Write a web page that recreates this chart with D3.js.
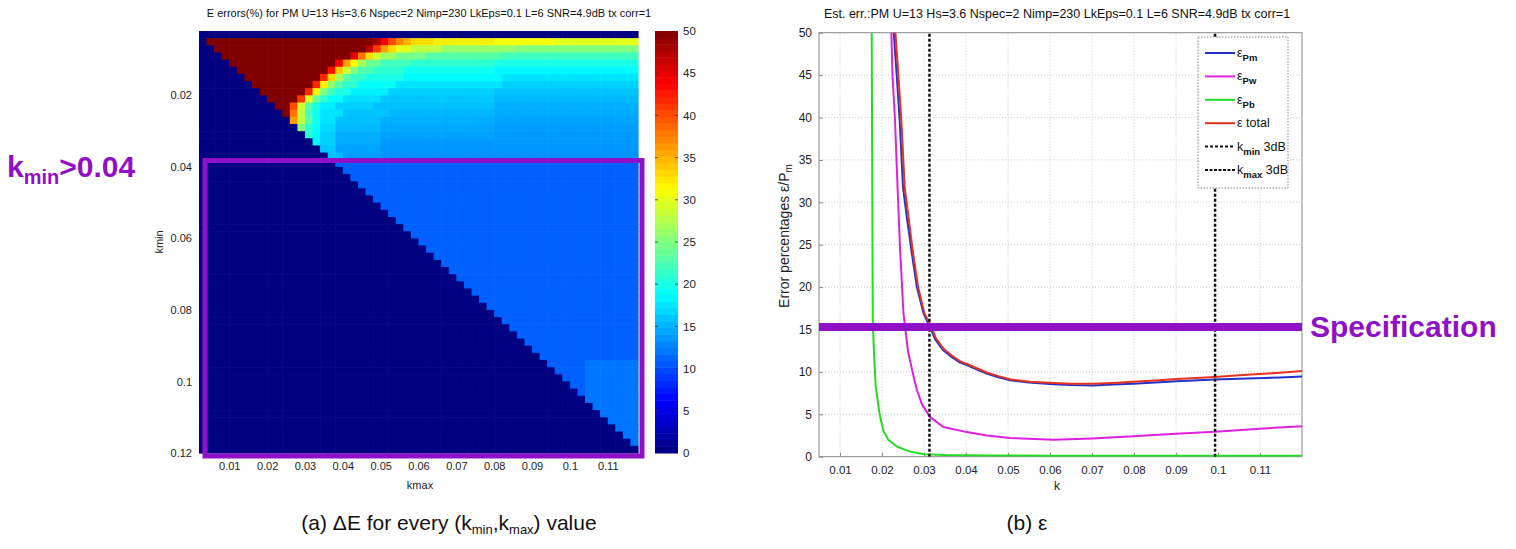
<!DOCTYPE html>
<html><head><meta charset="utf-8">
<script src="https://cdn.jsdelivr.net/npm/d3@7"></script>
<style>
body{margin:0;background:#fff;}
text{font-family:"Liberation Sans",Arial,sans-serif;}
</style>
</head><body>
<svg id="c" width="1516" height="549"></svg>
<script>
// ---------- DATA ----------
// heatmap grid (cell centres)
const kminCats = [0.003,0.005,0.007,0.009,0.011,0.013,0.015,0.017,0.019,0.021,0.023,0.025,0.027,0.029,0.031,0.033,0.035,0.037,0.039,0.041,0.043,0.045,0.047,0.049,0.051,0.053,0.055,0.057,0.059,0.061,0.063,0.065,0.067,0.069,0.071,0.073,0.075,0.077,0.079,0.081,0.083,0.085,0.087,0.089,0.091,0.093,0.095,0.097,0.099,0.101,0.103,0.105,0.107,0.109,0.111,0.113,0.115,0.117,0.119];
const kmaxCats = [0.003,0.005,0.007,0.009,0.011,0.013,0.015,0.017,0.019,0.021,0.023,0.025,0.027,0.029,0.031,0.033,0.035,0.037,0.039,0.041,0.043,0.045,0.047,0.049,0.051,0.053,0.055,0.057,0.059,0.061,0.063,0.065,0.067,0.069,0.071,0.073,0.075,0.077,0.079,0.081,0.083,0.085,0.087,0.089,0.091,0.093,0.095,0.097,0.099,0.101,0.103,0.105,0.107,0.109,0.111,0.113,0.115,0.117];
// read values per kmin row, as runs [kmax up to, error %] (upper rows, kmin 0.005 .. 0.037)
const heatTopRuns = [
  [[0.047,60],[0.049,48],[0.051,44],[0.053,40],[0.055,37],[0.057,35],[0.063,33],[0.079,32],[0.095,31],[1,30]],
  [[0.045,60],[0.047,47],[0.049,41],[0.051,36],[0.053,33],[0.057,30],[0.065,28],[0.085,26],[1,25]],
  [[0.041,60],[0.043,45],[0.045,38],[0.047,33],[0.049,29],[0.053,26.5],[0.061,24.5],[0.081,23],[1,22]],
  [[0.037,60],[0.039,44],[0.041,36],[0.043,31],[0.045,27],[0.049,24],[0.057,22],[0.079,21],[1,20]],
  [[0.035,60],[0.037,43],[0.039,34],[0.041,29],[0.043,25],[0.047,22.5],[0.055,21],[0.079,19.5],[1,18.5]],
  [[0.033,60],[0.035,42],[0.037,33],[0.039,27],[0.041,23.5],[0.045,21.5],[0.055,20],[0.081,18.5],[1,17.5]],
  [[0.031,60],[0.033,42],[0.035,32],[0.037,26],[0.039,23],[0.043,21],[0.053,19],[0.081,17.5],[1,16.5]],
  [[0.029,60],[0.031,42],[0.033,31],[0.035,25],[0.037,22],[0.041,20],[0.051,18],[0.079,16.5],[1,15.8]],
  [[0.027,60],[0.029,41],[0.031,30],[0.033,24],[0.035,21],[0.039,19],[0.049,17.2],[0.079,16],[1,15.3]],
  [[0.025,60],[0.027,40],[0.029,29],[0.031,23],[0.033,20],[0.037,18],[0.047,16.5],[0.079,15.6],[1,14.9]],
  [[0.025,52],[0.027,38],[0.029,28],[0.031,22],[0.033,19.5],[0.039,17.5],[0.051,15.8],[0.079,15.2],[1,14.6]],
  [[0.027,36],[0.029,28],[0.031,23],[0.033,19.5],[0.037,17.5],[0.049,15.6],[0.079,14.8],[1,14.3]],
  [[0.029,25],[0.031,21],[0.033,19],[0.037,17],[0.049,15.3],[0.079,14.5],[1,14]],
  [[0.031,21],[0.033,18.5],[0.037,16.5],[0.049,14.8],[0.079,14.2],[1,13.8]],
  [[0.033,18.5],[0.037,16.5],[0.049,14.6],[1,13.8]],
  [[0.037,16],[0.049,14.3],[1,13.6]],
  [[0.039,15.5],[0.049,14],[1,13.4]]
];
// lower rows (kmin >= 0.039): nearly uniform level, slightly higher patch bottom-right
const heatLowerRuns = [[0.103,11],[1,11]];
const heatLowerPatchRuns = [[0.103,11],[1,12]];
const heatPatchKmin = 0.093;
const cbarTicks = [0,5,10,15,20,25,30,35,40,45,50];
const heatXTicks = [0.01,0.02,0.03,0.04,0.05,0.06,0.07,0.08,0.09,0.1,0.11];
const heatYTicks = [0.02,0.04,0.06,0.08,0.1,0.12];

// right panel curves
const kPb = [0.0174,0.01755,0.0178,0.0181,0.0185,0.0194,0.0203,0.0215,0.0235,0.0267,0.03,0.035,0.045,0.06,0.08,0.1,0.12];
const ePb = [58,50,16.1,12.2,8.25,5.1,3.1,2.0,1.2,0.6,0.3,0.2,0.15,0.12,0.1,0.1,0.1];
const kPw = [0.0219,0.0225,0.0231,0.0237,0.0243,0.0251,0.0262,0.0275,0.0283,0.0295,0.0314,0.0346,0.0402,0.045,0.0505,0.0608,0.07,0.0798,0.09,0.0993,0.11,0.12];
const ePw = [56,45,39.7,31.8,24.5,17,12.4,9.5,7.9,6.2,4.7,3.5,2.9,2.5,2.2,2.0,2.15,2.4,2.7,2.95,3.3,3.6];
const kPm = [0.0222,0.0228,0.0235,0.0242,0.025,0.026,0.0271,0.0283,0.0299,0.0314,0.0326,0.0345,0.0365,0.0386,0.0402,0.0425,0.0449,0.0475,0.0505,0.055,0.0608,0.065,0.0703,0.075,0.0798,0.085,0.0902,0.0993,0.105,0.1148,0.12];
const ePm = [56,50,45,39.7,31.8,27.9,24,20,16.9,15.3,13.9,12.6,11.8,11.1,10.8,10.3,9.8,9.4,9.0,8.75,8.55,8.45,8.4,8.5,8.6,8.75,8.9,9.1,9.2,9.35,9.45];
const kTot = [0.0226,0.0232,0.0239,0.0246,0.0254,0.0264,0.0274,0.0286,0.0301,0.0316,0.0328,0.0347,0.0367,0.0388,0.0404,0.0427,0.0451,0.0477,0.0507,0.0552,0.061,0.065,0.0703,0.075,0.0798,0.085,0.0902,0.0993,0.105,0.1148,0.12];
const eTot = [56,50,45,39.7,31.8,27.9,24,20,16.9,15.5,14.0,12.7,11.9,11.2,10.9,10.4,9.9,9.5,9.1,8.85,8.7,8.6,8.6,8.7,8.85,9.0,9.15,9.4,9.6,9.9,10.1];
const kmin3dB = 0.0313, kmax3dB = 0.0993;
const specLevel = 15.3;
const rXTicks = [0.01,0.02,0.03,0.04,0.05,0.06,0.07,0.08,0.09,0.1,0.11];
const rYTicks = [0,5,10,15,20,25,30,35,40,45,50];

// ---------- DRAW ----------
const svg = d3.select("#c");
const PURPLE = "#9010c8";
function jet(t){
  t = Math.max(0, Math.min(1, t));
  const c = v => Math.round(255*Math.max(0, Math.min(1, v)));
  return `rgb(${c(1.5-Math.abs(4*t-3))},${c(1.5-Math.abs(4*t-2))},${c(1.5-Math.abs(4*t-1))})`;
}
const cval = d3.scaleLinear().domain([0,50]).range([0,1]).clamp(true);

// ---- left: heatmap ----
const hx = d3.scaleLinear().domain([0.002,0.118]).range([199,638]);
const hy = d3.scaleLinear().domain([0.002,0.120]).range([31,453]);
const cells = [];
kminCats.forEach((kmin,i)=>{
  let runs = null;
  if (i>=1 && i<=heatTopRuns.length) runs = heatTopRuns[i-1];
  else if (i>heatTopRuns.length) runs = kmin>heatPatchKmin ? heatLowerPatchRuns : heatLowerRuns;
  kmaxCats.forEach(kmax=>{
    let v = 0;
    if (runs && kmax >= kmin - 1e-9){
      for (const r of runs){ if (kmax <= r[0]+1e-9){ v = r[1]; break; } }
    }
    cells.push({kmin,kmax,v});
  });
});
const half = 0.001;
svg.append("g").selectAll("rect").data(cells).join("rect")
  .attr("x", d=>hx(d.kmax-half)).attr("y", d=>hy(d.kmin-half))
  .attr("width", d=>hx(d.kmax+half)-hx(d.kmax-half)+0.6)
  .attr("height", d=>hy(d.kmin+half)-hy(d.kmin-half)+0.6)
  .attr("fill", d=>jet(cval(d.v)));

const gxh = svg.append("g").attr("transform","translate(0,453)")
  .call(d3.axisBottom(hx).tickValues(heatXTicks).tickSize(0).tickPadding(9).tickFormat(d=>String(d)));
gxh.select(".domain").remove();
gxh.selectAll("text").attr("font-size",11).attr("fill","#222").attr("font-family","Liberation Sans, Arial");
const gyh = svg.append("g").attr("transform","translate(199,0)")
  .call(d3.axisLeft(hy).tickValues(heatYTicks).tickSize(0).tickPadding(7).tickFormat(d=>String(d)));
gyh.select(".domain").remove();
gyh.selectAll("text").attr("font-size",11).attr("fill","#222").attr("font-family","Liberation Sans, Arial");
svg.append("text").attr("x",420).attr("y",489).attr("text-anchor","middle").attr("font-size",11).attr("fill","#222").text("kmax");
svg.append("text").attr("transform","translate(163,242) rotate(-90)").attr("text-anchor","middle").attr("font-size",11).attr("fill","#222").text("kmin");
svg.append("text").attr("x",429).attr("y",17).attr("text-anchor","middle").attr("font-size",11).attr("fill","#111")
  .text("E errors(%) for PM U=13 Hs=3.6 Nspec=2 Nimp=230 LkEps=0.1 L=6 SNR=4.9dB tx corr=1");

// colorbar
const cby = d3.scaleLinear().domain([0,50]).range([453,31]);
const nC = 64;
svg.append("g").selectAll("rect").data(d3.range(nC)).join("rect")
  .attr("x",655).attr("width",23)
  .attr("y", i=>cby((i+1)*50/nC)).attr("height", i=>cby(i*50/nC)-cby((i+1)*50/nC)+0.5)
  .attr("fill", i=>jet((i+0.5)/nC));
const gcb = svg.append("g").attr("transform","translate(678,0)")
  .call(d3.axisRight(cby).tickValues(cbarTicks).tickSize(0).tickPadding(5));
gcb.select(".domain").remove();
gcb.selectAll("text").attr("font-size",11.5).attr("fill","#222").attr("font-family","Liberation Sans, Arial");
svg.append("g").selectAll("line").data(cbarTicks.slice(1,-1)).join("line")
  .attr("x1",655).attr("x2",658).attr("y1",d=>cby(d)).attr("y2",d=>cby(d)).attr("stroke","#333").attr("stroke-width",0.8);
svg.append("g").selectAll("line").data(cbarTicks.slice(1,-1)).join("line")
  .attr("x1",675).attr("x2",678).attr("y1",d=>cby(d)).attr("y2",d=>cby(d)).attr("stroke","#333").attr("stroke-width",0.8);

// annotation: kmin > 0.04 box
svg.append("rect").attr("x",205).attr("y",160.5).attr("width",437).attr("height",295.5)
  .attr("fill","none").attr("stroke",PURPLE).attr("stroke-width",5);
const kt = svg.append("text").attr("x",7).attr("y",177).attr("fill",PURPLE).attr("font-weight","bold").attr("font-size",30);
kt.append("tspan").text("k");
kt.append("tspan").attr("font-size",20).attr("dy",7).text("min");
kt.append("tspan").attr("dy",-7).text(">0.04");

// ---- right: line chart ----
const rx = d3.scaleLinear().domain([0.005,0.12]).range([819,1302]);
const ry = d3.scaleLinear().domain([0,50]).range([456.7,32.7]);
const rg = svg.append("g");
rg.append("g").selectAll("line").data(rXTicks).join("line")
  .attr("x1",d=>rx(d)).attr("x2",d=>rx(d)).attr("y1",ry(0)).attr("y2",ry(50))
  .attr("stroke","#bbb").attr("stroke-width",0.8).attr("stroke-dasharray","1,2");
rg.append("g").selectAll("line").data(rYTicks.slice(1,-1)).join("line")
  .attr("y1",d=>ry(d)).attr("y2",d=>ry(d)).attr("x1",rx(0.005)).attr("x2",rx(0.12))
  .attr("stroke","#bbb").attr("stroke-width",0.8).attr("stroke-dasharray","1,2");
rg.append("rect").attr("x",rx(0.005)).attr("y",ry(50)).attr("width",rx(0.12)-rx(0.005)).attr("height",ry(0)-ry(50))
  .attr("fill","none").attr("stroke","#888").attr("stroke-width",1);
const gxr = rg.append("g").attr("transform",`translate(0,${ry(0)})`)
  .call(d3.axisBottom(rx).tickValues(rXTicks).tickSizeInner(-4).tickSizeOuter(0).tickPadding(9).tickFormat(d=>String(d)));
gxr.select(".domain").remove();
gxr.selectAll("line").attr("stroke","#888");
gxr.selectAll("text").attr("font-size",11.5).attr("fill","#222").attr("font-family","Liberation Sans, Arial");
const gyr = rg.append("g").attr("transform",`translate(${rx(0.005)},0)`)
  .call(d3.axisLeft(ry).tickValues(rYTicks).tickSizeInner(-4).tickSizeOuter(0).tickPadding(7));
gyr.select(".domain").remove();
gyr.selectAll("line").attr("stroke","#888");
gyr.selectAll("text").attr("font-size",12).attr("fill","#222").attr("font-family","Liberation Sans, Arial");

svg.append("defs").append("clipPath").attr("id","rclip").append("rect")
  .attr("x",rx(0.005)).attr("y",ry(50)).attr("width",rx(0.12)-rx(0.005)).attr("height",ry(0)-ry(50));
const lineGen = d3.line().x(d=>rx(d[0])).y(d=>ry(d[1]));
const series = [
  {k:kPb, e:ePb, color:"#22dd22"},
  {k:kPw, e:ePw, color:"#e020e0"},
  {k:kPm, e:ePm, color:"#2233cc"},
  {k:kTot, e:eTot, color:"#e8321e"}
];
const cg = svg.append("g").attr("clip-path","url(#rclip)");
series.forEach(s=>{
  cg.append("path").datum(s.k.map((k,i)=>[k,s.e[i]])).attr("d",lineGen)
    .attr("fill","none").attr("stroke",s.color).attr("stroke-width",2).attr("stroke-linejoin","round");
});
[kmin3dB,kmax3dB].forEach(k=>{
  cg.append("line").attr("x1",rx(k)).attr("x2",rx(k)).attr("y1",ry(0)).attr("y2",ry(50))
    .attr("stroke","#111").attr("stroke-width",2.5).attr("stroke-dasharray","3,2");
});
svg.append("line").attr("x1",rx(0.005)).attr("x2",rx(0.12)).attr("y1",ry(specLevel)).attr("y2",ry(specLevel))
  .attr("stroke",PURPLE).attr("stroke-width",8);
svg.append("text").attr("x",1310).attr("y",337).attr("fill",PURPLE).attr("font-weight","bold").attr("font-size",30).text("Specification");

// legend
const lg = svg.append("g");
lg.append("rect").attr("x",1198).attr("y",37).attr("width",90).attr("height",151)
  .attr("fill","#fff").attr("stroke","#666").attr("stroke-width",0.8).attr("stroke-dasharray","1.5,1.5");
const legItems = [
  {main:"ε", sub:"Pm", color:"#2233cc", dash:null},
  {main:"ε", sub:"Pw", color:"#e020e0", dash:null},
  {main:"ε", sub:"Pb", color:"#22dd22", dash:null},
  {main:"ε total", sub:null, color:"#e8321e", dash:null},
  {main:"k", sub:"min", after:" 3dB", color:"#111", dash:"3,2"},
  {main:"k", sub:"max", after:" 3dB", color:"#111", dash:"3,1.5"}
];
legItems.forEach((it,i)=>{
  const y = 53 + i*23.4;
  lg.append("line").attr("x1",1205).attr("x2",1235).attr("y1",y).attr("y2",y)
    .attr("stroke",it.color).attr("stroke-width",2).attr("stroke-dasharray",it.dash);
  const t = lg.append("text").attr("x",1237).attr("y",y+4).attr("font-size",12.5).attr("fill","#111");
  t.append("tspan").text(it.main);
  if (it.sub){
    t.append("tspan").attr("font-size",9.5).attr("dy",4).attr("font-weight","bold").text(it.sub);
    if (it.after) t.append("tspan").attr("dy",-4).attr("font-size",12.5).text(it.after);
  }
});

svg.append("text").attr("x",1057).attr("y",18).attr("text-anchor","middle").attr("font-size",12.5).attr("fill","#111")
  .text("Est. err.:PM U=13 Hs=3.6 Nspec=2 Nimp=230 LkEps=0.1 L=6 SNR=4.9dB tx corr=1");
svg.append("text").attr("x",1057).attr("y",490).attr("text-anchor","middle").attr("font-size",12).attr("fill","#222").text("k");
const yl = svg.append("text").attr("transform","translate(789,236) rotate(-90)").attr("text-anchor","middle").attr("font-size",14).attr("fill","#222");
yl.append("tspan").text("Error percentages ε/P");
yl.append("tspan").attr("font-size",10).attr("dy",3).text("m");

// captions
const ca = svg.append("text").attr("x",449).attr("y",530).attr("text-anchor","middle").attr("font-size",21).attr("fill","#111");
ca.append("tspan").text("(a) ΔE for every (k");
ca.append("tspan").attr("font-size",13).attr("dy",4).text("min");
ca.append("tspan").attr("dy",-4).text(",k");
ca.append("tspan").attr("font-size",13).attr("dy",4).text("max");
ca.append("tspan").attr("dy",-4).text(") value");
svg.append("text").attr("x",1027).attr("y",530).attr("text-anchor","middle").attr("font-size",21).attr("fill","#111").text("(b) ε");
</script>
</body></html>
